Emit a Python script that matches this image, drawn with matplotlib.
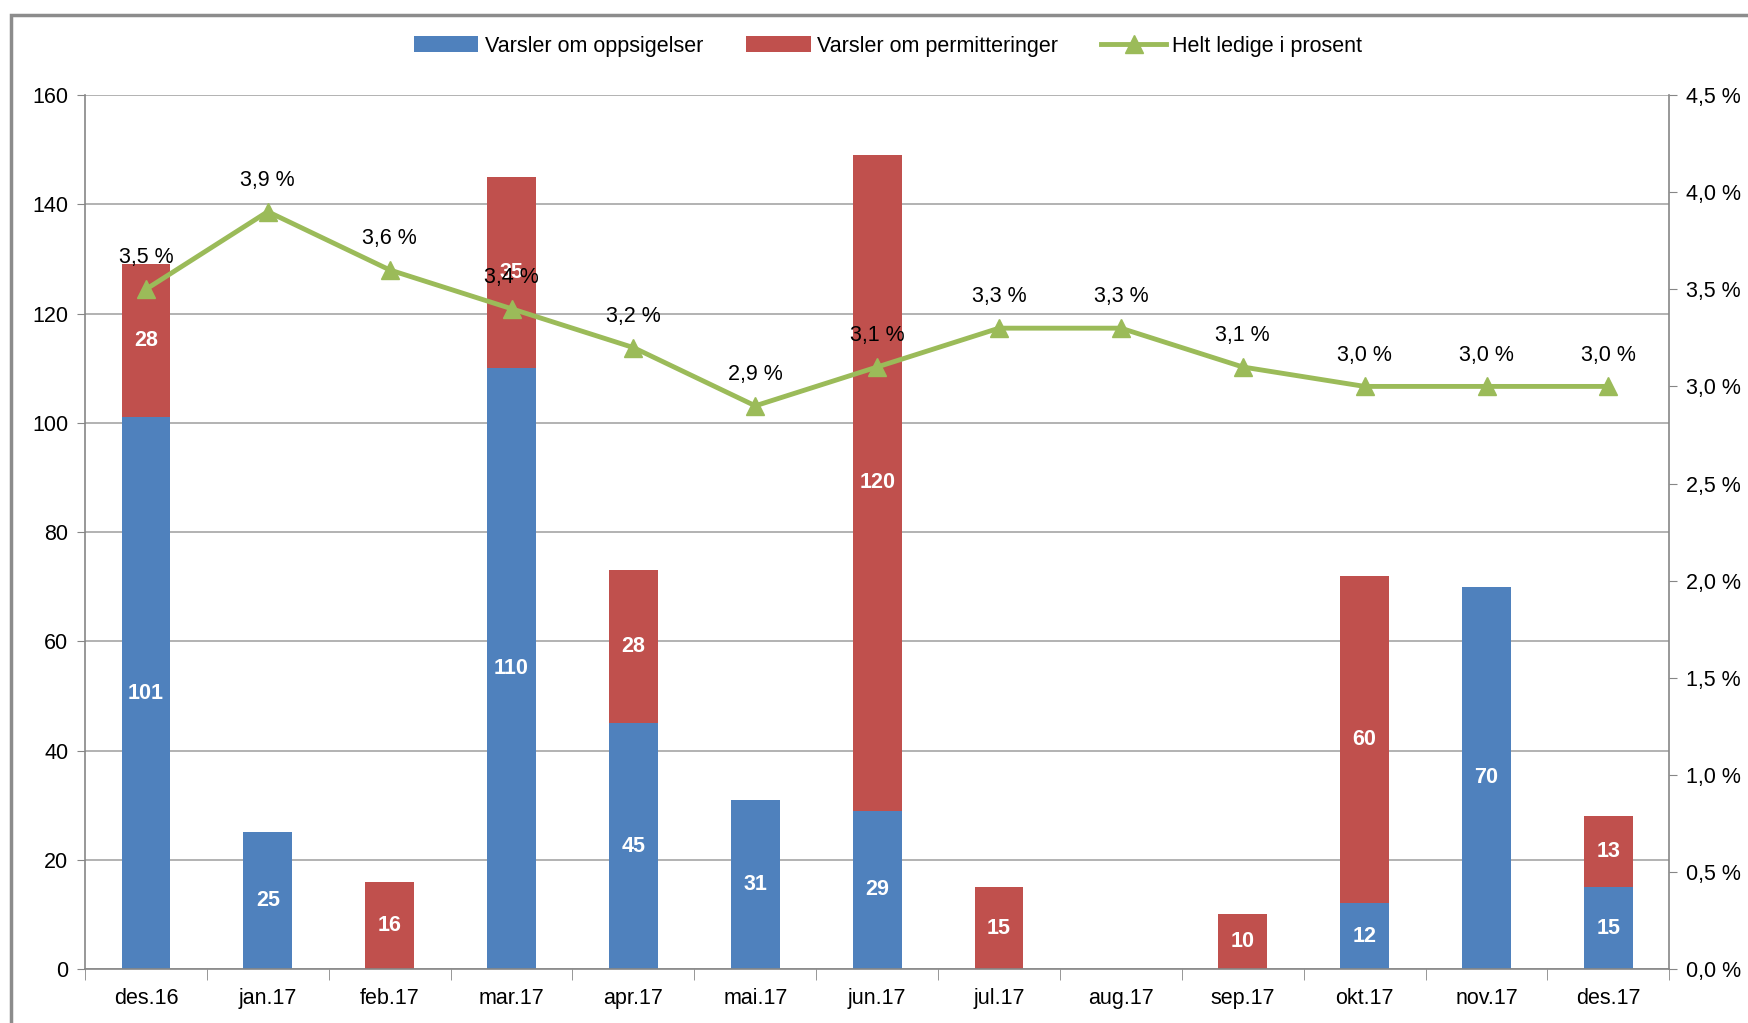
import numpy as np
import matplotlib.pyplot as plt
from matplotlib.patches import Rectangle

plt.rcParams['font.family'] = ['Liberation Sans', 'DejaVu Sans']

months = ['des.16', 'jan.17', 'feb.17', 'mar.17', 'apr.17', 'mai.17', 'jun.17',
          'jul.17', 'aug.17', 'sep.17', 'okt.17', 'nov.17', 'des.17']
oppsigelser = [101, 25, 0, 110, 45, 31, 29, 0, 0, 0, 12, 70, 15]
permitteringer = [28, 0, 16, 35, 28, 0, 120, 15, 0, 10, 60, 0, 13]
ledige = [3.5, 3.9, 3.6, 3.4, 3.2, 2.9, 3.1, 3.3, 3.3, 3.1, 3.0, 3.0, 3.0]

blue = '#4F81BD'
red = '#C0504D'
green = '#9BBB59'
grey = '#868686'
fs = 15.5

fig = plt.figure(figsize=(17.48, 10.23), dpi=100)
fig.patches.append(Rectangle((11 / 1748, -0.1), 1.2, 1 - 15 / 1023 + 0.1,
                             transform=fig.transFigure, fill=False,
                             edgecolor='#8c8c8c', linewidth=2.5))
ax = fig.add_axes([0.0486, 0.0528, 0.9064, 0.8542])
x = np.arange(len(months))
w = 0.4

b1 = ax.bar(x, oppsigelser, w, color=blue, label='Varsler om oppsigelser', zorder=2)
b2 = ax.bar(x, permitteringer, w, bottom=oppsigelser, color=red,
            label='Varsler om permitteringer', zorder=2)

# white value labels in the middle of each segment
for i in range(len(months)):
    if oppsigelser[i]:
        ax.text(x[i], oppsigelser[i] / 2, str(oppsigelser[i]), ha='center', va='center',
                color='white', fontweight='bold', fontsize=fs, zorder=3)
    if permitteringer[i]:
        ax.text(x[i], oppsigelser[i] + permitteringer[i] / 2, str(permitteringer[i]),
                ha='center', va='center', color='white', fontweight='bold', fontsize=fs, zorder=3)

ax.set_ylim(0, 160)
ax.set_yticks(range(0, 161, 20))
ax.set_xlim(-0.5, len(months) - 0.5)
ax.set_xticks(x)
ax.set_xticklabels(months)
ax.set_xticks(np.arange(-0.5, len(months), 1), minor=True)
ax.tick_params(axis='x', which='major', length=0, pad=14, labelsize=fs)
ax.tick_params(axis='x', which='minor', length=8, color=grey, direction='out')
ax.tick_params(axis='y', length=6, color=grey, labelsize=fs, pad=6)
ax.grid(axis='y', color='#a6a6a6', linewidth=1.2, zorder=0)
for s in ['top', 'right']:
    ax.spines[s].set_visible(False)
for s in ['left', 'bottom']:
    ax.spines[s].set_color(grey)
    ax.spines[s].set_linewidth(1.2)

ax2 = ax.twinx()
ln, = ax2.plot(x, ledige, color=green, linewidth=3.5, marker='^', markersize=13,
               label='Helt ledige i prosent', zorder=4)
for i, v in enumerate(ledige):
    ax2.annotate(f'{v:.1f} %'.replace('.', ','), (x[i], v), xytext=(0, 15),
                 textcoords='offset points', ha='center', va='bottom', fontsize=fs)
ax2.set_ylim(0, 4.5)
ax2.set_yticks(np.arange(0, 4.51, 0.5))
ax2.set_yticklabels([f'{t:.1f} %'.replace('.', ',') for t in np.arange(0, 4.51, 0.5)])
ax2.tick_params(axis='y', length=6, color=grey, labelsize=fs, pad=6)
for s in ['top', 'left', 'bottom']:
    ax2.spines[s].set_visible(False)
ax2.spines['right'].set_color(grey)
ax2.spines['right'].set_linewidth(1.2)

fig.legend(handles=[b1, b2, ln], loc='center', bbox_to_anchor=(0.508, 0.955), ncol=3,
           frameon=False, fontsize=fs, handlelength=3, columnspacing=2.0, handletextpad=0.3)

fig.savefig('out.png', dpi=100)
